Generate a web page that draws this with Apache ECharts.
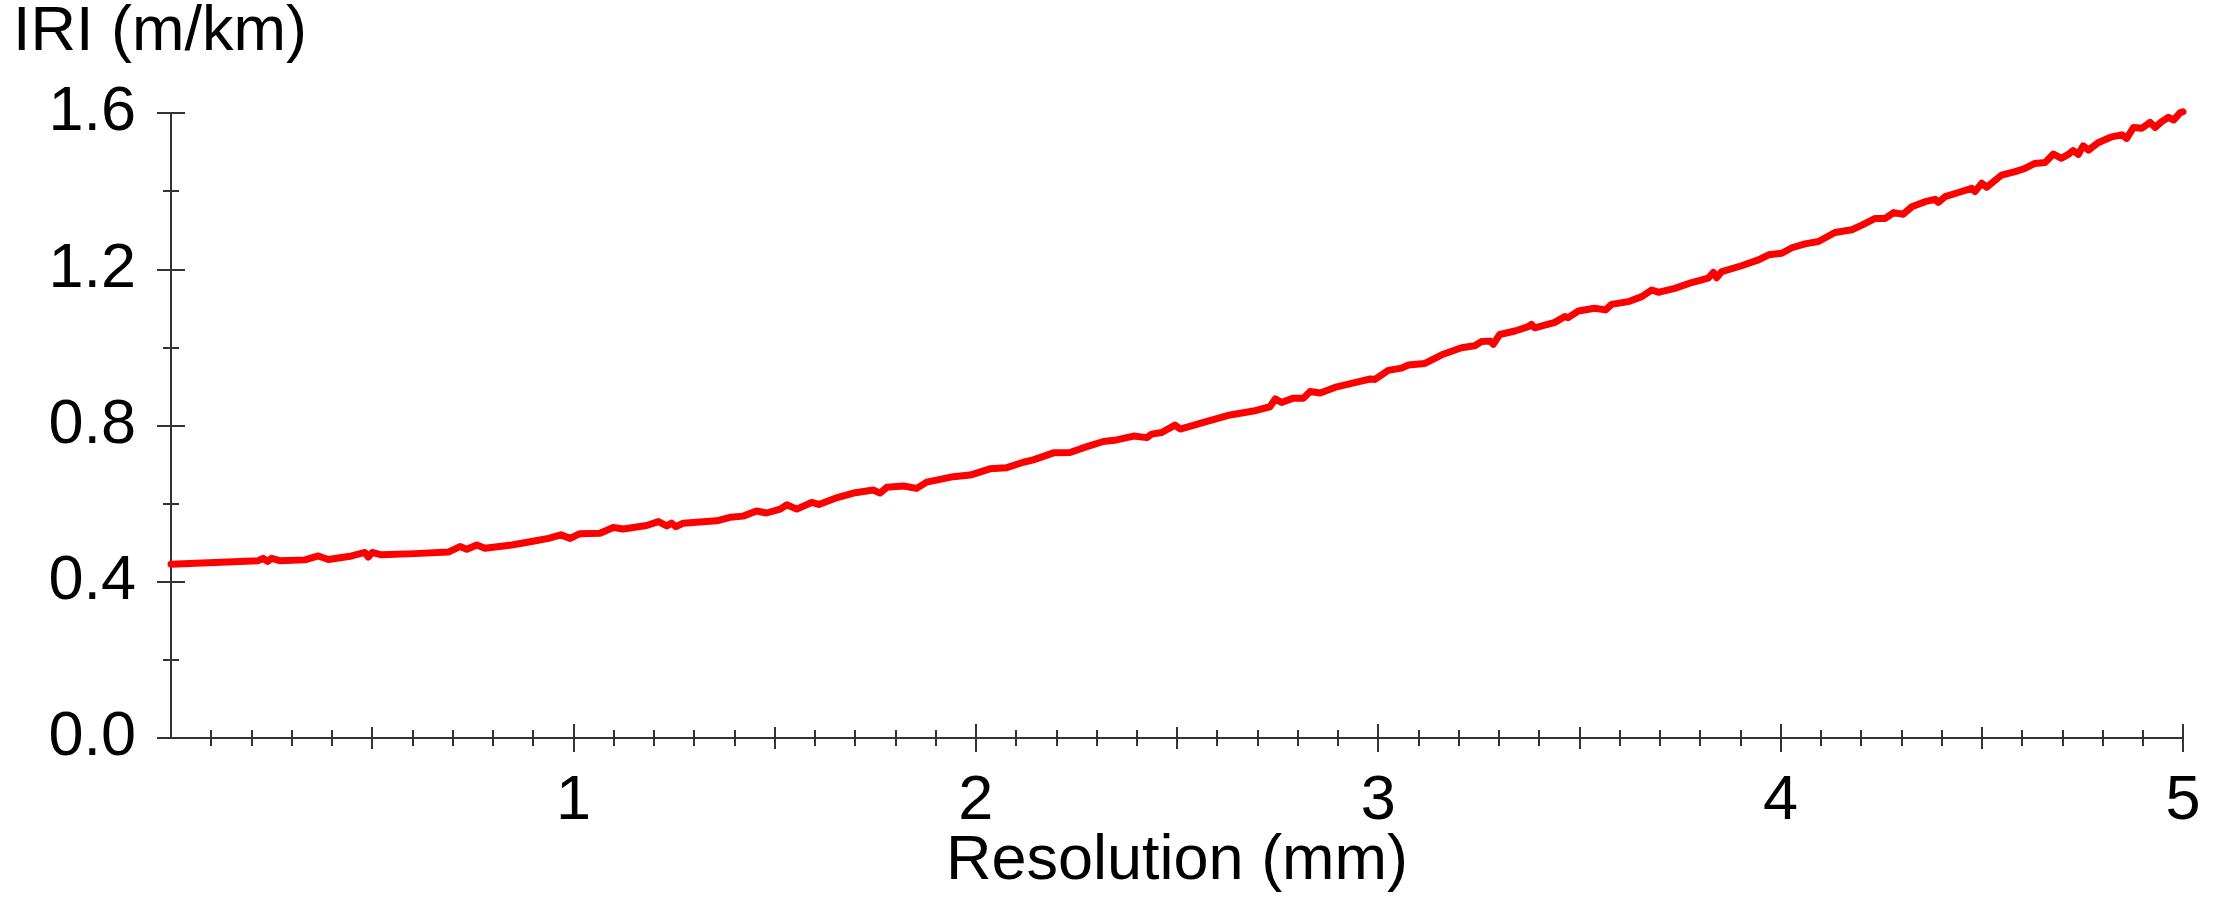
<!DOCTYPE html>
<html>
<head>
<meta charset="utf-8">
<title>IRI vs Resolution</title>
<script src="https://cdn.jsdelivr.net/npm/echarts@6/dist/echarts.min.js"></script>
<style>
  html, body { margin: 0; padding: 0; background: #ffffff; }
  #chart { width: 2217px; height: 897px; }
</style>
</head>
<body>
<div id="chart"></div>
<script>
// Resolution (mm) and the IRI (m/km) computed at each resolution
const resolutionMm = [
  0.000, 0.109, 0.217, 0.229, 0.240, 0.250, 0.270, 0.333, 0.366, 0.391,
  0.449, 0.482, 0.490, 0.500, 0.523, 0.606, 0.689, 0.718, 0.735, 0.760,
  0.780, 0.847, 0.896, 0.938, 0.969, 0.992, 1.016, 1.066, 1.099, 1.124,
  1.182, 1.211, 1.232, 1.244, 1.255, 1.273, 1.356, 1.389, 1.422, 1.455,
  1.480, 1.514, 1.530, 1.555, 1.592, 1.610, 1.651, 1.696, 1.721, 1.745,
  1.762, 1.779, 1.820, 1.853, 1.878, 1.944, 1.986, 2.035, 2.077, 2.118,
  2.143, 2.193, 2.234, 2.276, 2.317, 2.350, 2.392, 2.425, 2.437, 2.462,
  2.495, 2.508, 2.566, 2.632, 2.690, 2.731, 2.744, 2.760, 2.789, 2.814,
  2.831, 2.856, 2.897, 2.947, 2.980, 2.992, 3.025, 3.058, 3.075, 3.116,
  3.158, 3.207, 3.240, 3.257, 3.278, 3.286, 3.302, 3.340, 3.373, 3.381,
  3.389, 3.439, 3.464, 3.472, 3.497, 3.538, 3.565, 3.580, 3.621, 3.655,
  3.680, 3.696, 3.737, 3.779, 3.820, 3.833, 3.841, 3.854, 3.903, 3.945,
  3.970, 4.003, 4.028, 4.061, 4.094, 4.135, 4.177, 4.202, 4.235, 4.260,
  4.281, 4.305, 4.326, 4.359, 4.384, 4.392, 4.409, 4.450, 4.475, 4.483,
  4.500, 4.512, 4.549, 4.583, 4.607, 4.632, 4.657, 4.678, 4.698, 4.715,
  4.727, 4.740, 4.752, 4.765, 4.789, 4.823, 4.848, 4.860, 4.877, 4.898,
  4.918, 4.931, 4.947, 4.964, 4.977, 4.993, 5.000
];
const iriValues = [
  0.445, 0.449, 0.454, 0.460, 0.452, 0.460, 0.454, 0.456, 0.466, 0.457,
  0.466, 0.475, 0.463, 0.475, 0.469, 0.472, 0.476, 0.490, 0.483, 0.494,
  0.486, 0.494, 0.503, 0.511, 0.520, 0.511, 0.523, 0.524, 0.539, 0.535,
  0.544, 0.554, 0.543, 0.550, 0.541, 0.550, 0.556, 0.565, 0.568, 0.581,
  0.576, 0.586, 0.597, 0.586, 0.603, 0.598, 0.614, 0.627, 0.631, 0.635,
  0.627, 0.642, 0.645, 0.639, 0.655, 0.669, 0.673, 0.689, 0.692, 0.706,
  0.712, 0.730, 0.731, 0.746, 0.759, 0.763, 0.773, 0.769, 0.778, 0.782,
  0.801, 0.791, 0.808, 0.827, 0.837, 0.848, 0.868, 0.859, 0.870, 0.870,
  0.887, 0.883, 0.899, 0.911, 0.919, 0.918, 0.941, 0.947, 0.955, 0.959,
  0.981, 0.999, 1.004, 1.015, 1.016, 1.008, 1.033, 1.042, 1.053, 1.059,
  1.050, 1.064, 1.079, 1.076, 1.093, 1.100, 1.096, 1.110, 1.117, 1.130,
  1.147, 1.141, 1.151, 1.166, 1.177, 1.192, 1.178, 1.194, 1.209, 1.224,
  1.237, 1.241, 1.255, 1.265, 1.271, 1.294, 1.301, 1.313, 1.330, 1.330,
  1.345, 1.341, 1.360, 1.373, 1.379, 1.371, 1.386, 1.399, 1.407, 1.399,
  1.420, 1.410, 1.441, 1.450, 1.458, 1.471, 1.473, 1.495, 1.484, 1.494,
  1.504, 1.494, 1.516, 1.505, 1.524, 1.539, 1.544, 1.535, 1.563, 1.561,
  1.576, 1.563, 1.578, 1.589, 1.582, 1.601, 1.603
];

// Tick positions on the resolution axis
const xMajorTicks = [1, 2, 3, 4, 5];
const xMidTicks = [0.5, 1.5, 2.5, 3.5, 4.5];
const xMinorTicks = [];
for (let i = 1; i < 50; i++) {
  if (i % 5 !== 0) xMinorTicks.push(+(i / 10).toFixed(1));
}

const FONT = '"Liberation Sans", Arial, Helvetica, sans-serif';
const FONT_SIZE = 63;
const AXIS_COLOR = '#333333';
const TEXT_COLOR = '#000000';

const chart = echarts.init(document.getElementById('chart'), null, { renderer: 'canvas' });

// One x axis carrying a single tick family, drawn on one side of the axis line
function xTickAxis(values, len, inside, main) {
  return {
    type: 'value',
    position: 'bottom',
    min: 0,
    max: 5,
    interval: 0.1,
    axisLine: main ? { show: true, onZero: false, lineStyle: { color: AXIS_COLOR, width: 2 } } : { show: false },
    axisTick: {
      show: true, inside: inside, length: len, customValues: values,
      lineStyle: { color: AXIS_COLOR, width: 2 }
    },
    axisLabel: main ? {
      show: true, customValues: xMajorTicks, margin: 32,
      color: TEXT_COLOR, fontSize: FONT_SIZE, fontFamily: FONT,
      formatter: function (v) { return String(v); }
    } : { show: false },
    splitLine: { show: false },
    name: main ? 'Resolution (mm)' : '',
    nameLocation: 'middle',
    nameGap: 92,
    nameMoveOverlap: false,
    nameTextStyle: { color: TEXT_COLOR, fontSize: FONT_SIZE, fontFamily: FONT }
  };
}

// Y axis: labelled ticks every 0.4, shorter ticks in between, on both sides of the line
function yTickAxis(inside, main) {
  return {
    type: 'value',
    position: 'left',
    min: 0,
    max: 1.6,
    interval: 0.4,
    axisLine: main ? { show: true, onZero: false, lineStyle: { color: AXIS_COLOR, width: 2 } } : { show: false },
    axisTick: { show: true, inside: inside, length: 14, lineStyle: { color: AXIS_COLOR, width: 2 } },
    minorTick: { show: true, splitNumber: 2, length: 8, lineStyle: { color: AXIS_COLOR, width: 2 } },
    axisLabel: main ? {
      show: true, margin: 35, color: TEXT_COLOR, fontSize: FONT_SIZE, fontFamily: FONT,
      formatter: function (v) { return v.toFixed(1); }
    } : { show: false },
    splitLine: { show: false },
    minorSplitLine: { show: false },
    name: main ? 'IRI (m/km)' : '',
    nameLocation: 'end',
    nameGap: 80,
    nameMoveOverlap: false,
    nameTextStyle: {
      color: TEXT_COLOR, fontSize: FONT_SIZE, fontFamily: FONT,
      align: 'center', verticalAlign: 'middle', padding: [0, 22, 0, 0]
    }
  };
}

const points = resolutionMm.map(function (x, i) { return [x, iriValues[i]]; });

chart.setOption({
  animation: false,
  backgroundColor: '#ffffff',
  grid: {
    left: 171, right: 34, top: 113, bottom: 159,
    containLabel: false, outerBoundsMode: 'none'
  },
  xAxis: [
    xTickAxis(xMajorTicks, 14, false, true),
    xTickAxis(xMajorTicks, 14, true, false),
    xTickAxis(xMidTicks, 11, false, false),
    xTickAxis(xMidTicks, 11, true, false),
    xTickAxis(xMinorTicks, 8, false, false),
    xTickAxis(xMinorTicks, 8, true, false)
  ],
  yAxis: [
    yTickAxis(false, true),
    yTickAxis(true, false)
  ],
  series: [{
    type: 'line',
    xAxisIndex: 0,
    yAxisIndex: 0,
    data: points,
    showSymbol: false,
    symbol: 'none',
    smooth: false,
    clip: false,
    lineStyle: { color: '#ff0000', width: 7, join: 'round', cap: 'round' }
  }]
});
</script>
</body>
</html>
